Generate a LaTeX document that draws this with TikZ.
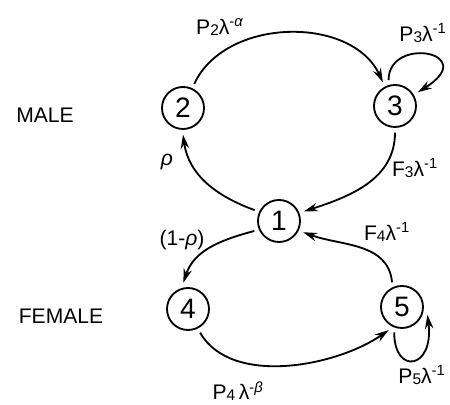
\documentclass[tikz,border=0pt]{standalone}
\usepackage{fontspec}
\setmainfont{Liberation Sans}
\usetikzlibrary{arrows.meta,positioning}
\newcommand{\lam}[1]{λ\textsuperscript{#1}}
\newcommand{\idx}[1]{\raisebox{-0.1ex}{\fontsize{11}{11}\selectfont #1}}

\begin{document}
\begin{tikzpicture}[
    x=0.025cm, y=0.025cm,
    state/.style={circle, draw, line width=1.3pt, minimum size=1.05cm, inner sep=0pt, outer sep=4pt, font=\fontsize{20}{20}\selectfont},
    flow/.style={-{Stealth[length=10pt,width=6pt]}, line width=1.3pt},
    lbl/.style={font=\fontsize{15}{17}\selectfont},
    sex/.style={font=\fontsize{15}{17}\selectfont}
]
    \useasboundingbox (0,0) rectangle (450,405);

    % States
    \node[state] (n2) at (183,297) {2};
    \node[state] (n3) at (395,299) {3};
    \node[state] (n1) at (279,184) {1};
    \node[state] (n4) at (188,96) {4};
    \node[state] (n5) at (402,98) {5};

    % Sexes
    \node[sex] (male) at (45,290) {MALE};
    \node[sex] (female) at (61,89) {FEMALE};

    % Edges
    \draw[flow] (n2.65) to[out=65, in=115] (n3.117);
    \draw[flow] (n3.104) .. controls +(90:45) and +(32:75) .. (n3.31);
    \draw[flow] (n3.270) to[out=-90, in=18] (n1.21);
    \draw[flow] (n1.156) to[out=160, in=-82] (n2.270);
    \draw[flow] (n1.202) to[out=195, in=72] (n4.100);
    \draw[flow] (n5.112) to[out=95, in=-20] (n1.-25);
    \draw[flow] (n4.-63) to[out=-60, in=-145, looseness=0.85] (n5.240);
    \draw[flow] (n5.253) .. controls +(270:43) and +(-83:55) .. (n5.-17);

    % Labels
    \node[lbl] (l23) at (220,378) {P\idx{2}\lam{-\textit{α}}};
    \node[lbl] (l33) at (423,372) {P\idx{3}\lam{-1}};
    \node[lbl] (l31) at (415,237) {F\idx{3}\lam{-1}};
    \node[lbl] (l12) at (167,243) {\textit{ρ}};
    \node[lbl] (l14) at (182,165) {(1-\textit{ρ})};
    \node[lbl] (l51) at (387,173) {F\idx{4}\lam{-1}};
    \node[lbl] (l45) at (238,14) {P\idx{4}\,\lam{-\textit{β}}};
    \node[lbl] (l55) at (422,30) {P\idx{5}\lam{-1}};
\end{tikzpicture}
\end{document}
